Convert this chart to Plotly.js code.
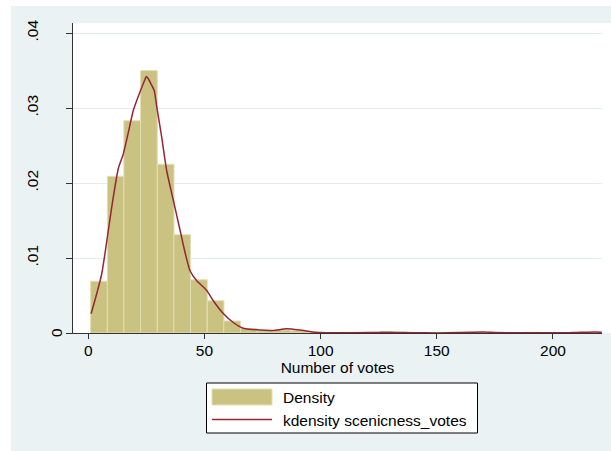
<!DOCTYPE html>
<html>
<head>
<meta charset="utf-8">
<script src="https://cdn.plot.ly/plotly-3.0.1.min.js"></script>
<style>html,body{margin:0;padding:0;background:#fff;}#chart{width:611px;height:451px;}</style>
</head>
<body>
<div id="chart"></div>
<script>
// Histogram bins (midpoints) and density heights
var binMid = [4.6, 11.8, 18.9, 26.1, 33.3, 40.4, 47.6, 54.8, 61.9, 69.1, 76.3, 83.5, 90.6, 97.8, 105.0, 112.1, 119.3, 126.5, 133.6, 140.8, 148.0, 155.1, 162.3, 169.5, 176.6, 183.8, 191.0, 198.1, 205.3, 212.5, 219.6];
var binWidth = 7.17;
var density = [0.0069, 0.0209, 0.0283, 0.0350, 0.0225, 0.0131, 0.0071, 0.0043, 0.0016, 0.0006, 0.0003, 0.0004, 0.0003, 0.0001, 0.0000, 0.0001, 0.0000, 0.0001, 0.0001, 0.0000, 0.0000, 0.0001, 0.0000, 0.0001, 0.0000, 0.0000, 0.0001, 0.0000, 0.0000, 0.0000, 0.0001];

// Kernel density curve
var kdeX = [1.2, 3.6, 5.8, 7.8, 10.1, 12.9, 15.1, 17.2, 19.4, 22.2, 24.4, 25.0, 26.0, 27.0, 28.4, 29.4, 31.6, 33.7, 36.6, 39.5, 41.6, 43.8, 46.6, 50.9, 53.8, 58.1, 62.4, 66.7, 69.6, 74, 79.5, 85.4, 91, 98, 105, 115, 125, 130, 135, 145, 155, 165, 170, 175, 185, 195, 205, 212, 218, 221];
var kdeY = [0.00256, 0.0052, 0.0079, 0.0119, 0.0168, 0.0219, 0.0239, 0.0267, 0.0297, 0.0321, 0.0338, 0.0342, 0.0338, 0.0332, 0.0323, 0.0303, 0.0261, 0.0217, 0.0177, 0.0137, 0.0108, 0.0083, 0.0070, 0.0057, 0.0043, 0.0026, 0.0014, 0.00064, 0.0005, 0.0004, 0.00033, 0.00056, 0.0004, 0.0001, 0.00003, 0.00003, 0.00008, 0.0001, 0.00005, 0.00002, 0.00002, 0.0001, 0.00013, 0.00008, 0.00002, 0.00002, 0.00003, 0.0001, 0.00012, 0.0001];

var yTickVals = [0, 0.01, 0.02, 0.03, 0.04];
var yTickText = ['', '.01', '.02', '.03', '.04'];
var yZeroLabel = '0';
var xTickVals = [0, 50, 100, 150, 200];
var xTickText = ['0', '50', '100', '150', '200'];
var legendLabels = ['Density', 'kdensity scenicness_votes'];

var barFill = 'rgb(201,194,128)';
var barLine = 'rgb(226,222,180)';
var kdeColor = 'rgb(148,38,54)';
var bgColor = '#EAF2F3';
var FONT = 'Liberation Sans, Arial, sans-serif';

var W = 611, H = 451, ML = 73, MR = 9, MT = 23, MB = 118;
var PW = W - ML - MR, PH = H - MT - MB;
function px(x) { return (x - ML) / PW; }
function py(y) { return (H - MB - y) / PH; }

var traces = [
  {type: 'bar', x: binMid, y: density, width: binWidth,
   marker: {color: barFill, line: {color: barLine, width: 1}},
   showlegend: false, hoverinfo: 'skip'},
  {type: 'scatter', mode: 'lines', x: kdeX, y: kdeY,
   line: {color: kdeColor, width: 1.5, shape: 'spline', smoothing: 0.6},
   showlegend: false, hoverinfo: 'skip'}
];

var shapes = [
  {type: 'rect', xref: 'paper', yref: 'paper', layer: 'below', x0: px(11), x1: px(611), y0: py(451), y1: py(6), fillcolor: bgColor, line: {width: 0}},
  {type: 'rect', xref: 'paper', yref: 'paper', layer: 'below', x0: px(73), x1: px(611), y0: py(333), y1: py(23), fillcolor: '#ffffff', line: {width: 0}},
  {type: 'rect', xref: 'paper', yref: 'paper', x0: px(206.5), x1: px(477.5), y0: py(433), y1: py(383), fillcolor: '#ffffff', line: {color: '#000', width: 1}},
  {type: 'rect', xref: 'paper', yref: 'paper', x0: px(212), x1: px(272), y0: py(405), y1: py(389), fillcolor: barFill, line: {color: barLine, width: 1}},
  {type: 'line', xref: 'paper', yref: 'paper', x0: px(212), x1: px(272), y0: py(419.5), y1: py(419.5), line: {color: kdeColor, width: 1.5}}
];

var annotations = [
  {xref: 'paper', yref: 'paper', x: px(281), y: py(397.5), text: legendLabels[0], showarrow: false, xanchor: 'left', yanchor: 'middle', font: {family: FONT, size: 15.5, color: '#000'}},
  {xref: 'paper', yref: 'paper', x: px(281), y: py(420), text: legendLabels[1], showarrow: false, xanchor: 'left', yanchor: 'middle', font: {family: FONT, size: 15.5, color: '#000'}},
  {xref: 'paper', yref: 'y', x: px(56), y: yTickVals[0], text: yZeroLabel, textangle: -90, showarrow: false, xanchor: 'center', yanchor: 'middle', font: {family: FONT, size: 15.5, color: '#000'}}
];

var layout = {
  width: W, height: H,
  margin: {l: ML, r: MR, t: MT, b: MB, pad: 0},
  paper_bgcolor: '#ffffff',
  plot_bgcolor: '#ffffff',
  font: {family: FONT, size: 15.5, color: '#000'},
  showlegend: false,
  bargap: 0,
  xaxis: {
    range: [-6.58, 221.1], tickvals: xTickVals, ticktext: xTickText,
    ticks: 'outside', ticklen: 5, tickcolor: '#333', tickwidth: 1,
    showline: true, linecolor: '#333', linewidth: 1,
    showgrid: false, zeroline: false,
    tickfont: {family: FONT, size: 15.5, color: '#000'},
    ticklabelstandoff: -2,
    title: {text: 'Number of votes', font: {family: FONT, size: 15.5, color: '#000'}, standoff: 0}
  },
  yaxis: {
    range: [0, 0.041333], tickvals: yTickVals, ticktext: yTickText,
    tickangle: -90,
    ticks: 'outside', ticklen: 6, tickcolor: '#333', tickwidth: 1,
    showline: true, linecolor: '#333', linewidth: 1,
    showgrid: true, gridcolor: '#E3EDEF', gridwidth: 1, zeroline: false,
    tickfont: {family: FONT, size: 15.5, color: '#000'},
    ticklabelstandoff: 22
  },
  shapes: shapes,
  annotations: annotations
};

Plotly.newPlot('chart', traces, layout, {staticPlot: true, displayModeBar: false});
</script>
</body>
</html>
